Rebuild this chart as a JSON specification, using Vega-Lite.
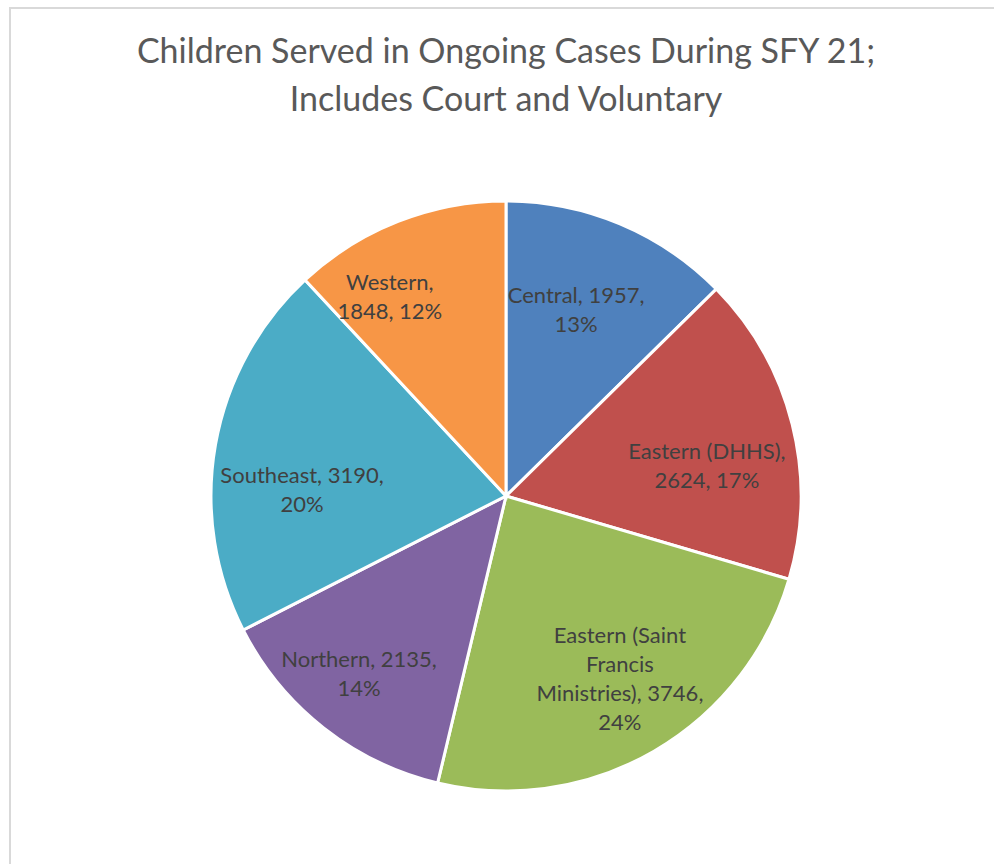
{
  "$schema": "https://vega.github.io/schema/vega-lite/v6.json",
  "width": 992,
  "height": 976,
  "autosize": {"type": "none"},
  "padding": {"left": 10, "top": 8, "right": -8, "bottom": -120},
  "background": "white",
  "view": {"stroke": "#d9d9d9", "strokeWidth": 2, "fill": "white"},
  "title": {
    "text": ["Children Served in Ongoing Cases During SFY 21;", "Includes Court and Voluntary"],
    "font": "Lato",
    "fontSize": 34,
    "fontWeight": "normal",
    "color": "#595959",
    "lineHeight": 48,
    "anchor": "middle",
    "offset": -110
  },
  "config": {
    "view": {"stroke": "#d9d9d9", "strokeWidth": 2},
    "text": {"font": "Lato", "fontSize": 22, "fill": "#404040", "lineBreak": "\n", "lineHeight": 29, "align": "center", "baseline": "middle"}
  },
  "data": {
    "values": [
      {"region": "Central", "count": 1957, "label": "Central, 1957,\n13%"},
      {"region": "Eastern (DHHS)", "count": 2624, "label": "Eastern (DHHS),\n2624, 17%"},
      {"region": "Eastern (Saint Francis Ministries)", "count": 3746, "label": "Eastern (Saint\nFrancis\nMinistries), 3746,\n24%"},
      {"region": "Northern", "count": 2135, "label": "Northern, 2135,\n14%"},
      {"region": "Southeast", "count": 3190, "label": "Southeast, 3190,\n20%"},
      {"region": "Western", "count": 1848, "label": "Western,\n1848, 12%"}
    ]
  },
  "encoding": {
    "theta": {"field": "count", "type": "quantitative", "stack": true},
    "detail": {"field": "region", "type": "nominal"},
    "text": {"field": "label", "type": "nominal"}
  },
  "layer": [
    {
      "mark": {"type": "arc", "outerRadius": 295, "stroke": "white", "strokeWidth": 3},
      "encoding": {
        "color": {
          "field": "region",
          "type": "nominal",
          "scale": {
            "domain": ["Central", "Eastern (DHHS)", "Eastern (Saint Francis Ministries)", "Northern", "Southeast", "Western"],
            "range": ["#4F81BD", "#C0504D", "#9BBB59", "#8064A2", "#4BACC6", "#F79646"]
          },
          "legend": null
        }
      }
    },
    {
      "mark": {"type": "text", "radius": 198, "thetaOffset": -0.035, "dy": -14.5},
      "encoding": {"opacity": {"condition": {"test": "datum.region === 'Central'", "value": 1}, "value": 0}}
    },
    {
      "mark": {"type": "text", "radius": 203, "thetaOffset": 0.1, "dy": -14.5},
      "encoding": {"opacity": {"condition": {"test": "datum.region === 'Eastern (DHHS)'", "value": 1}, "value": 0}}
    },
    {
      "mark": {"type": "text", "radius": 216, "thetaOffset": -0.03, "dy": -43.5},
      "encoding": {"opacity": {"condition": {"test": "datum.region === 'Eastern (Saint Francis Ministries)'", "value": 1}, "value": 0}}
    },
    {
      "mark": {"type": "text", "radius": 231, "thetaOffset": 0.023, "dy": -14.5},
      "encoding": {"opacity": {"condition": {"test": "datum.region === 'Northern'", "value": 1}, "value": 0}}
    },
    {
      "mark": {"type": "text", "radius": 204, "thetaOffset": -0.148, "dy": -14.5},
      "encoding": {"opacity": {"condition": {"test": "datum.region === 'Southeast'", "value": 1}, "value": 0}}
    },
    {
      "mark": {"type": "text", "radius": 230, "thetaOffset": -0.155, "dy": -14.5},
      "encoding": {"opacity": {"condition": {"test": "datum.region === 'Western'", "value": 1}, "value": 0}}
    }
  ]
}
